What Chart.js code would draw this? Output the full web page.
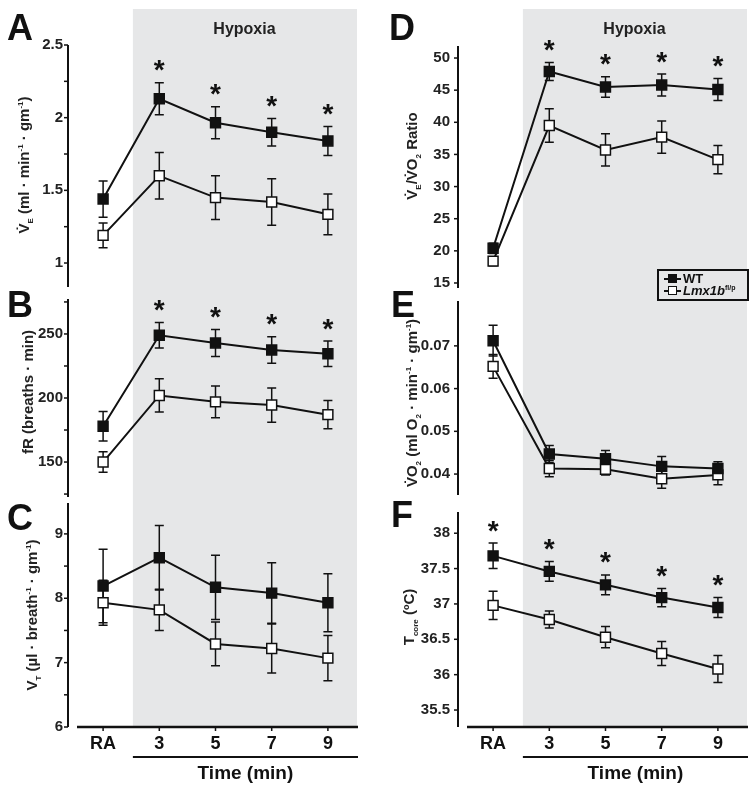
<!DOCTYPE html>
<html lang="en">
<head>
<meta charset="UTF-8">
<title>Hypoxic ventilatory response - WT vs Lmx1b</title>
<script src="https://cdn.jsdelivr.net/npm/chart.js"></script>
<style>
  body { margin: 0; background: #fff; font-family: "Liberation Sans", Arial, sans-serif; }
  #fig { position: relative; width: 755px; height: 794px; overflow: hidden; }
  canvas { position: absolute; }
  .ytit { position: absolute; white-space: nowrap; font-weight: bold; font-size: 15px; color: #222;
          transform: translate(-50%, -50%) rotate(-90deg); }
  .ytit sub, .ytit sup { font-size: 8px; }
  .letra { position: absolute; font-weight: bold; font-size: 36px; line-height: 1; color: #111; }
  #leg { position: absolute; left: 657px; top: 269px; width: 83px; height: 26px; border: 2px solid #111;
         padding: 2px 0 0 5px; font-weight: bold; font-size: 13px; line-height: 12px; color: #111; }
  #leg sup { font-size: 7px; line-height: 0; }
  .mk { display: inline-block; position: relative; width: 17px; height: 10px; vertical-align: -1px; margin-right: 2px; }
  .mk::before { content: ''; position: absolute; left: 0; right: 0; top: 4px; height: 1.5px; background: #111; }
  .mk::after { content: ''; position: absolute; left: 4px; top: 0; width: 7px; height: 7px; border: 1.5px solid #111; background: #fff; }
  .mk.f::after { background: #111; }
</style>
</head>
<body>
<div id="fig">
  <canvas id="cA" width="375" height="292" style="left:0;top:0"></canvas>
  <canvas id="cB" width="375" height="208" style="left:0;top:292px"></canvas>
  <canvas id="cC" width="375" height="294" style="left:0;top:500px"></canvas>
  <canvas id="cD" width="380" height="292" style="left:375px;top:0"></canvas>
  <canvas id="cE" width="380" height="208" style="left:375px;top:292px"></canvas>
  <canvas id="cF" width="380" height="294" style="left:375px;top:500px"></canvas>

  <div class="letra" style="left:7px;top:10px">A</div>
  <div class="letra" style="left:7px;top:287px">B</div>
  <div class="letra" style="left:7px;top:500px">C</div>
  <div class="letra" style="left:389px;top:10px">D</div>
  <div class="letra" style="left:391px;top:287px">E</div>
  <div class="letra" style="left:391px;top:497px">F</div>

  <div class="ytit" style="left:25px;top:165px">V&#775;<sub>E</sub> (ml · min<sup>-1</sup> · gm<sup>-1</sup>)</div>
  <div class="ytit" style="left:27px;top:392px">fR (breaths · min)</div>
  <div class="ytit" style="left:33px;top:615px">V<sub>T</sub> (µl · breath<sup>-1</sup> · gm<sup>-1</sup>)</div>
  <div class="ytit" style="left:413px;top:156px">V&#775;<sub>E</sub>/V&#775;O<sub>2</sub> Ratio</div>
  <div class="ytit" style="left:413px;top:403px">V&#775;O<sub>2</sub> (ml O<sub>2</sub> · min<sup>-1</sup> · gm<sup>-1</sup>)</div>
  <div class="ytit" style="left:410px;top:617px">T<sub>core</sub> (ºC)</div>

  <div id="leg">
    <div><span class="mk f"></span>WT</div>
    <div><span class="mk"></span><i>Lmx1b</i><sup>fl/p</sup></div>
  </div>
</div>

<script>
  const fonte = '"Liberation Sans", Arial, sans-serif';
  const horarios = ['RA', '3', '5', '7', '9'];

  // A - ventilacao minuto
  const veWT = [1.44, 2.13, 1.965, 1.90, 1.84];
  const veWTerr = [0.125, 0.11, 0.11, 0.095, 0.10];
  const veLmx = [1.19, 1.60, 1.45, 1.42, 1.335];
  const veLmxErr = [0.085, 0.16, 0.15, 0.16, 0.14];
  const veTicks = [1, 1.5, 2, 2.5];
  const veMinor = [1.25, 1.75, 2.25];
  const veStars = [0, 1, 1, 1, 1];

  // B - frequencia respiratoria
  const frWT = [178, 249, 243, 237.5, 234.5];
  const frWTerr = [11.5, 10, 10.5, 10.3, 10];
  const frLmx = [150, 202, 197, 194.5, 187];
  const frLmxErr = [8, 13, 12.4, 13.4, 11];
  const frTicks = [150, 200, 250];
  const frMinor = [125, 175, 225, 275];
  const frStars = [0, 1, 1, 1, 1];

  // C - volume corrente
  const vtWT = [8.19, 8.63, 8.17, 8.08, 7.93];
  const vtWTerr = [0.57, 0.5, 0.5, 0.47, 0.45];
  const vtLmx = [7.93, 7.82, 7.29, 7.22, 7.07];
  const vtLmxErr = [0.35, 0.32, 0.34, 0.38, 0.35];
  const vtTicks = [6, 7, 8, 9];
  const vtMinor = [6.5, 7.5, 8.5];
  const vtStars = [0, 0, 0, 0, 0];

  // D - razao VE/VO2
  const razaoWT = [20.4, 47.9, 45.5, 45.8, 45.1];
  const razaoWTerr = [0.8, 1.4, 1.6, 1.7, 1.7];
  const razaoLmx = [18.4, 39.5, 35.7, 37.7, 34.2];
  const razaoLmxErr = [0.7, 2.6, 2.5, 2.5, 2.2];
  const razaoTicks = [15, 20, 25, 30, 35, 40, 45, 50];
  const razaoStars = [0, 1, 1, 1, 1];

  // E - consumo de O2
  const vo2WT = [0.0712, 0.0447, 0.0436, 0.0418, 0.0413];
  const vo2WTerr = [0.0036, 0.002, 0.0019, 0.0023, 0.0016];
  const vo2Lmx = [0.0652, 0.0413, 0.0411, 0.0389, 0.0398];
  const vo2LmxErr = [0.0028, 0.0019, 0.0013, 0.0022, 0.0023];
  const vo2Ticks = [0.04, 0.05, 0.06, 0.07];
  const vo2Stars = [0, 0, 0, 0, 0];

  // F - temperatura corporal
  const tempWT = [37.68, 37.46, 37.27, 37.09, 36.95];
  const tempWTerr = [0.18, 0.14, 0.14, 0.13, 0.14];
  const tempLmx = [36.98, 36.78, 36.53, 36.30, 36.08];
  const tempLmxErr = [0.2, 0.12, 0.15, 0.17, 0.19];
  const tempTicks = [35.5, 36, 36.5, 37, 37.5, 38];
  const tempStars = [1, 1, 1, 1, 1];

  const painelPlugin = {
    id: 'painel',
    beforeDraw(chart, args, o) {
      const { ctx, chartArea: a } = chart;
      const x0 = chart.scales.x.getPixelForValue(o.faixa);
      const fundo = o.eixoX ? a.bottom : chart.height;
      ctx.save();
      ctx.fillStyle = '#e6e7e8';
      ctx.fillRect(x0, o.topo, a.right + 1 - x0, fundo - o.topo);
      if (o.hipoxia) {
        ctx.fillStyle = '#222';
        ctx.font = 'bold 16px ' + fonte;
        ctx.textAlign = 'center';
        ctx.textBaseline = 'middle';
        ctx.fillText('Hypoxia', (x0 + a.right) / 2, 30);
      }
      ctx.restore();
    },
    beforeDatasetsDraw(chart) {
      const { ctx } = chart;
      const y = chart.scales.y;
      ctx.save();
      ctx.strokeStyle = '#111';
      ctx.lineWidth = 1.5;
      chart.data.datasets.forEach((ds, i) => {
        chart.getDatasetMeta(i).data.forEach((pt, j) => {
          const yTop = y.getPixelForValue(ds.data[j] + ds.erro[j]);
          const yBot = y.getPixelForValue(ds.data[j] - ds.erro[j]);
          ctx.beginPath();
          ctx.moveTo(pt.x, yTop); ctx.lineTo(pt.x, yBot);
          ctx.moveTo(pt.x - 4.5, yTop); ctx.lineTo(pt.x + 4.5, yTop);
          ctx.moveTo(pt.x - 4.5, yBot); ctx.lineTo(pt.x + 4.5, yBot);
          ctx.stroke();
        });
      });
      ctx.restore();
    },
    afterDraw(chart, args, o) {
      const { ctx, chartArea: a } = chart;
      const y = chart.scales.y;
      const x = chart.scales.x;
      ctx.save();
      ctx.strokeStyle = '#111';
      // eixo y deslocado
      const xa = a.left - 7;
      ctx.lineWidth = 2;
      ctx.beginPath(); ctx.moveTo(xa, a.top); ctx.lineTo(xa, a.bottom); ctx.stroke();
      ctx.lineWidth = 1.5;
      y.ticks.forEach(t => {
        const py = y.getPixelForValue(t.value);
        ctx.beginPath(); ctx.moveTo(xa - 4, py); ctx.lineTo(xa, py); ctx.stroke();
      });
      // asteriscos
      const ds = chart.data.datasets[0];
      ctx.fillStyle = '#111';
      ctx.font = 'bold 28px ' + fonte;
      ctx.textAlign = 'center';
      ctx.textBaseline = 'alphabetic';
      const m = ctx.measureText('*');
      const desl = (m.actualBoundingBoxAscent - m.actualBoundingBoxDescent) / 2;
      o.estrelas.forEach((s, j) => {
        if (!s) return;
        const cy = y.getPixelForValue(ds.data[j] + ds.erro[j]) - 17;
        ctx.fillText('*', x.getPixelForValue(j), cy + desl);
      });
      // eixo x e titulo de tempo
      if (o.eixoX) {
        const x0 = x.getPixelForValue(o.faixa);
        ctx.lineWidth = 2.5;
        ctx.beginPath(); ctx.moveTo(a.left + 2, a.bottom); ctx.lineTo(a.right + 2, a.bottom); ctx.stroke();
        ctx.lineWidth = 1.5;
        horarios.forEach((h, j) => {
          const px = x.getPixelForValue(j);
          ctx.beginPath(); ctx.moveTo(px, a.bottom); ctx.lineTo(px, a.bottom + 4); ctx.stroke();
        });
        ctx.lineWidth = 2;
        ctx.beginPath(); ctx.moveTo(x0, a.bottom + 30); ctx.lineTo(a.right + 2, a.bottom + 30); ctx.stroke();
        ctx.font = 'bold 19px ' + fonte;
        ctx.textBaseline = 'middle';
        ctx.fillText('Time (min)', (x0 + a.right + 2) / 2, a.bottom + 47);
      }
      ctx.restore();
    }
  };

  function serie(nome, dados, erro, cor) {
    return {
      label: nome,
      data: dados,
      erro: erro,
      borderColor: '#111',
      borderWidth: 2,
      pointStyle: 'rect',
      pointRadius: 7,
      pointBackgroundColor: cor,
      pointBorderColor: '#111',
      pointBorderWidth: 1.5,
      tension: 0,
      fill: false,
      clip: false
    };
  }

  // zera o padding automatico dos rotulos, para a area do grafico ficar onde foi pedida
  function semPadding(s) {
    s.paddingTop = 0; s.paddingBottom = 0; s.paddingLeft = 0; s.paddingRight = 0;
  }

  function criarPainel(id, p) {
    const todos = p.ticks.concat(p.minor || []).sort((a, b) => a - b);
    return new Chart(document.getElementById(id), {
      type: 'line',
      data: {
        labels: horarios,
        datasets: [
          serie('WT', p.wt, p.wtErr, '#111'),
          serie('Lmx1b fl/p', p.lmx, p.lmxErr, '#fff')
        ]
      },
      options: {
        responsive: false,
        animation: false,
        layout: { padding: p.pad, autoPadding: false },
        plugins: {
          legend: { display: false },
          tooltip: { enabled: false },
          painel: { faixa: 0.53, topo: p.topo, eixoX: p.eixoX, hipoxia: p.hipoxia, estrelas: p.estrelas }
        },
        scales: {
          x: {
            display: !!p.eixoX,
            offset: true,
            grid: { display: false, drawTicks: false },
            border: { display: false },
            afterFit: s => { if (p.eixoX) s.height = 67; semPadding(s); },
            ticks: { autoSkip: false, maxRotation: 0, padding: 6, color: '#111',
                     font: { family: fonte, size: 18, weight: 'bold' } }
          },
          y: {
            min: p.min,
            max: p.max,
            bounds: 'data',
            afterBuildTicks: s => { s.ticks = todos.map(v => ({ value: v })); },
            afterFit: s => { s.width = p.largura; semPadding(s); },
            grid: { display: false, drawTicks: false },
            border: { display: false },
            ticks: {
              autoSkip: false,
              padding: p.largura === 75 ? 12 : 15,
              color: '#222',
              font: { family: fonte, size: 15, weight: 'bold' },
              callback: v => p.ticks.includes(v) ? String(v) : ''
            }
          }
        }
      },
      plugins: [painelPlugin]
    });
  }

  criarPainel('cA', { wt: veWT, wtErr: veWTerr, lmx: veLmx, lmxErr: veLmxErr, ticks: veTicks, minor: veMinor,
    estrelas: veStars, min: 0.835, max: 2.5, largura: 75, pad: { top: 45, bottom: 5, left: 0, right: 19 },
    topo: 9, hipoxia: true });
  criarPainel('cB', { wt: frWT, wtErr: frWTerr, lmx: frLmx, lmxErr: frLmxErr, ticks: frTicks, minor: frMinor,
    estrelas: frStars, min: 122.7, max: 277.3, largura: 75, pad: { top: 7, bottom: 3, left: 0, right: 19 },
    topo: 0 });
  criarPainel('cC', { wt: vtWT, wtErr: vtWTerr, lmx: vtLmx, lmxErr: vtLmxErr, ticks: vtTicks, minor: vtMinor,
    estrelas: vtStars, min: 6, max: 9.48, largura: 75, pad: { top: 3, bottom: 0, left: 0, right: 19 },
    topo: 0, eixoX: true });
  criarPainel('cD', { wt: razaoWT, wtErr: razaoWTerr, lmx: razaoLmx, lmxErr: razaoLmxErr, ticks: razaoTicks,
    estrelas: razaoStars, min: 14.22, max: 51.87, largura: 90, pad: { top: 46, bottom: 4, left: 0, right: 9 },
    topo: 9, hipoxia: true });
  criarPainel('cE', { wt: vo2WT, wtErr: vo2WTerr, lmx: vo2Lmx, lmxErr: vo2LmxErr, ticks: vo2Ticks,
    estrelas: vo2Stars, min: 0.0351, max: 0.0805, largura: 90, pad: { top: 9, bottom: 5, left: 0, right: 9 },
    topo: 0 });
  criarPainel('cF', { wt: tempWT, wtErr: tempWTerr, lmx: tempLmx, lmxErr: tempLmxErr, ticks: tempTicks,
    estrelas: tempStars, min: 35.26, max: 38.3, largura: 90, pad: { top: 12, bottom: 0, left: 0, right: 9 },
    topo: 0, eixoX: true });
</script>
</body>
</html>
